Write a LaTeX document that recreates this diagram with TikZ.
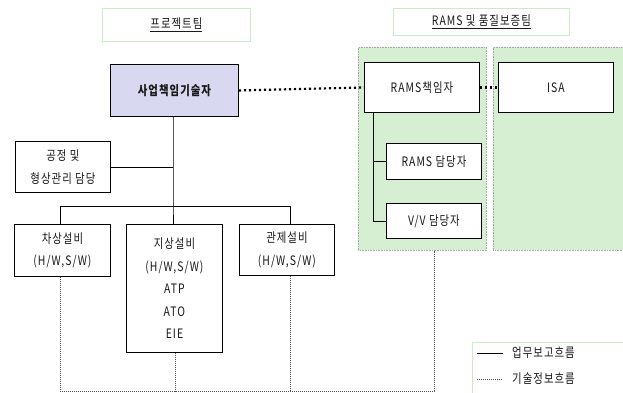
\documentclass[tikz,border=0pt]{standalone}
\usepackage{fontspec}
\setmainfont{Noto Sans CJK KR}
\newfontfamily\kfont[LetterSpace=8,FakeStretch=0.8]{Noto Sans CJK KR}
\definecolor{areagreen}{RGB}{214,239,210}
\definecolor{titleline}{RGB}{200,235,200}
\definecolor{mgrlav}{RGB}{216,216,240}
\definecolor{txt}{RGB}{25,25,25}
\begin{document}
\begin{tikzpicture}[x=1pt,y=-1pt,
  box/.style={draw=black, line width=0.9pt, fill=white, anchor=north west, inner sep=0pt, align=center,
    text=txt, font=\kfont\fontsize{13}{22.5}\selectfont},
  area/.style={draw=gray!70, densely dotted, line width=0.6pt, fill=areagreen, anchor=north west, inner sep=0pt},
  titlebox/.style={draw=titleline, line width=0.8pt, fill=white, anchor=north west, inner sep=0pt,
    text=txt, font=\kfont\fontsize{13}{15}\selectfont},
  solidline/.style={line width=0.9pt},
  infoline/.style={line width=0.7pt, gray!60!black, dash pattern=on 1pt off 1pt},
  bigdots/.style={line width=2.2pt, dash pattern=on 2.2pt off 2.8pt}
]
\useasboundingbox (0,0) rectangle (623,392);
% titles
\node[titlebox, minimum width=148, minimum height=33] (t1) at (102,8) {\underline{프로젝트팀}};
\node[titlebox, minimum width=176, minimum height=27] (t2) at (393,8) {\underline{RAMS 및 품질보증팀}};
% green areas
\node[area, minimum width=128, minimum height=203] (ga) at (358,47) {};
\node[area, minimum width=132, minimum height=203] (gb) at (493,47) {};
% boxes
\node[box, fill=mgrlav, minimum width=128, minimum height=52, font=\kfont\bfseries\fontsize{13}{15}\selectfont] (pm) at (110,64) {사업책임기술자};
\node[box, minimum width=115, minimum height=50] (rams) at (364,62) {RAMS책임자};
\node[box, minimum width=115, minimum height=50] (isa) at (498,62) {ISA};
\node[box, minimum width=95, minimum height=36] (ramsd) at (386,143) {RAMS 담당자};
\node[box, minimum width=95, minimum height=35] (vv) at (386,203) {V/V 담당자};
\node[box, minimum width=95, minimum height=51] (proc) at (15,141) {공정 및\\형상관리 담당};
\node[box, minimum width=96, minimum height=52] (cha) at (14,224) {차상설비\\(H/W,S/W)};
\node[box, minimum width=96, minimum height=128] (ji) at (126,224) {지상설비\\(H/W,S/W)\\ATP\\ATO\\EIE};
\node[box, minimum width=95, minimum height=51] (gw) at (239,224) {관제설비\\(H/W,S/W)};
% legend
\node[titlebox, minimum width=152, minimum height=51] (leg) at (472,342) {};
\coordinate (l1a) at (477,353); \coordinate (l1b) at (503,353);
\coordinate (l2a) at (477,379); \coordinate (l2b) at (503,379);
\draw[solidline] (l1a) -- (l1b);
\draw[infoline] (l2a) -- (l2b);
\node[anchor=west, inner sep=0pt, text=txt, font=\kfont\fontsize{13}{15}\selectfont] (lt1) at (512,353) {업무보고흐름};
\node[anchor=west, inner sep=0pt, text=txt, font=\kfont\fontsize{13}{15}\selectfont] (lt2) at (512,379) {기술정보흐름};
% solid connectors
\coordinate (hub) at (173,206);
\coordinate (cl) at (60,206);
\coordinate (cr) at (290,206);
\draw[solidline] (pm.south -| hub) -- (hub) -- (ji.north -| hub);
\draw[solidline] (proc.east) -- (proc.east -| hub);
\draw[solidline] (cha.north -| cl) -- (cl) -- (cr) -- (gw.north -| cr);
\coordinate (rv) at (373,112);
\draw[solidline] (rv) -- (rv |- vv.west) -- (vv.west);
\draw[solidline] (rv |- ramsd.west) -- (ramsd.west);
% dotted thick
\draw[bigdots] (pm.east) -- (rams.west);
\draw[bigdots] (rams.east) -- (isa.west);
% info flow
\coordinate (b1) at (60,391);
\coordinate (b2) at (175,391);
\coordinate (b3) at (290,391);
\coordinate (b4) at (434,391);
\draw[infoline] (cha.south -| b1) -- (b1) -- (b4) -- (b4 |- ga.south);
\draw[infoline] (ji.south -| b2) -- (b2);
\draw[infoline] (gw.south -| b3) -- (b3);
\end{tikzpicture}
\end{document}
